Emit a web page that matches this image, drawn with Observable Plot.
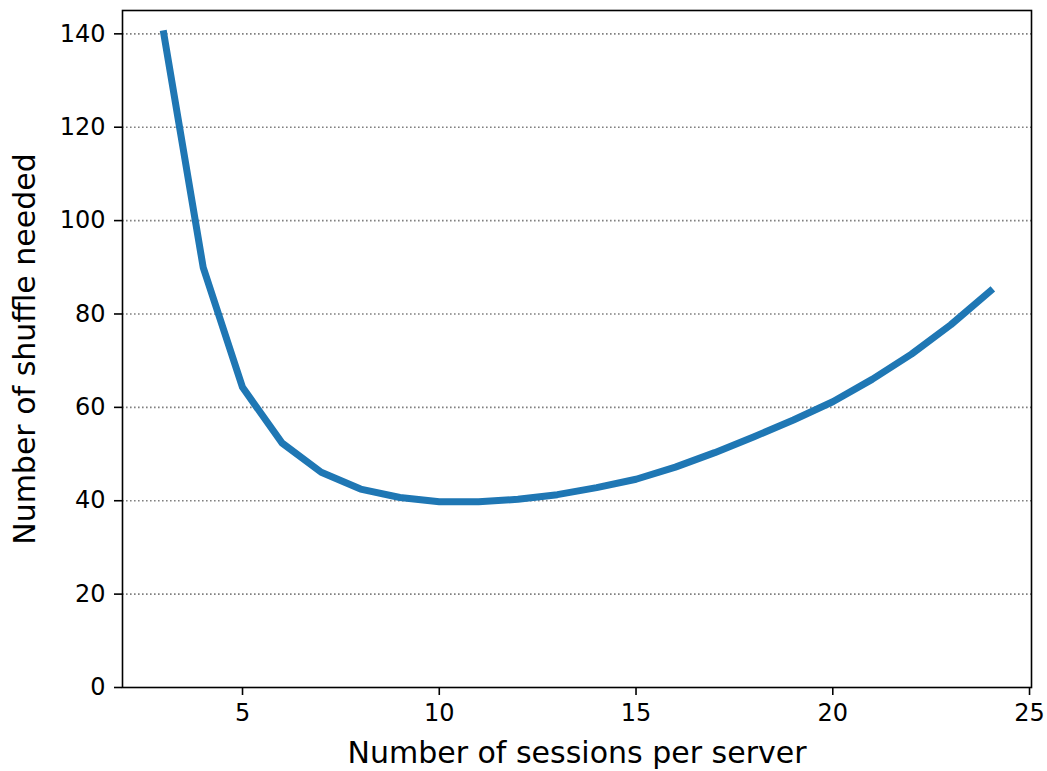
<!DOCTYPE html>
<html><head><meta charset="utf-8">
<script src="https://cdn.jsdelivr.net/npm/d3@7"></script>
<script src="https://cdn.jsdelivr.net/npm/@observablehq/plot@0.6"></script>
<style>body{margin:0;background:#fff}</style>
</head><body><div id="chart"></div>
<script>
const sessions = [3,4,5,6,7,8,9,10,11,12,13,14,15,16,17,18,19,20,21,22,23,24];
const shuffles = [140, 90, 64.3, 52.4, 46.1, 42.5, 40.7, 39.8, 39.8, 40.3, 41.3, 42.8, 44.6, 47.2, 50.3, 53.7, 57.3, 61.2, 66.0, 71.4, 77.7, 84.9];
const xTicks = [5,10,15,20,25];
const yTicks = [0,20,40,60,80,100,120,140];
const xLabel = "Number of sessions per server";
const yLabel = "Number of shuffle needed";
const data = sessions.map((s,i)=>({s, v: shuffles[i]}));
const chart = Plot.plot({
  width:1047, height:771, marginLeft:122, marginRight:16, marginTop:10, marginBottom:84,
  style:{fontFamily:"DejaVu Sans", fontSize:"24px", color:"black", background:"white"},
  x:{domain:[1.95,25.05]}, y:{domain:[0,145]},
  marks:[
    Plot.gridY(yTicks.filter(t=>t>0), {stroke:"#808080", strokeOpacity:1, strokeWidth:1.6, strokeDasharray:"1.6,2.4"}),
    Plot.lineY(data,{x:"s",y:"v",stroke:"#1f77b4",strokeWidth:7, strokeLinecap:"square", strokeLinejoin:"round"}),
    Plot.frame({stroke:"black", strokeWidth:1.6}),
    Plot.axisX(xTicks,{tickSize:8, tickPadding:8, strokeWidth:1.6, label:null, fontSize:24}),
    Plot.axisY(yTicks,{tickSize:8, tickPadding:9, strokeWidth:1.6, label:null, fontSize:24}),
    Plot.text([xLabel], {text:d=>d, frameAnchor:"bottom", dy:66, lineAnchor:"middle", textAnchor:"middle", fontSize:30}),
    Plot.text([yLabel], {text:d=>d, frameAnchor:"left", dx:-97, rotate:-90, lineAnchor:"middle", textAnchor:"middle", fontSize:30})
  ]
});
document.getElementById("chart").appendChild(chart);
</script>
</body></html>
